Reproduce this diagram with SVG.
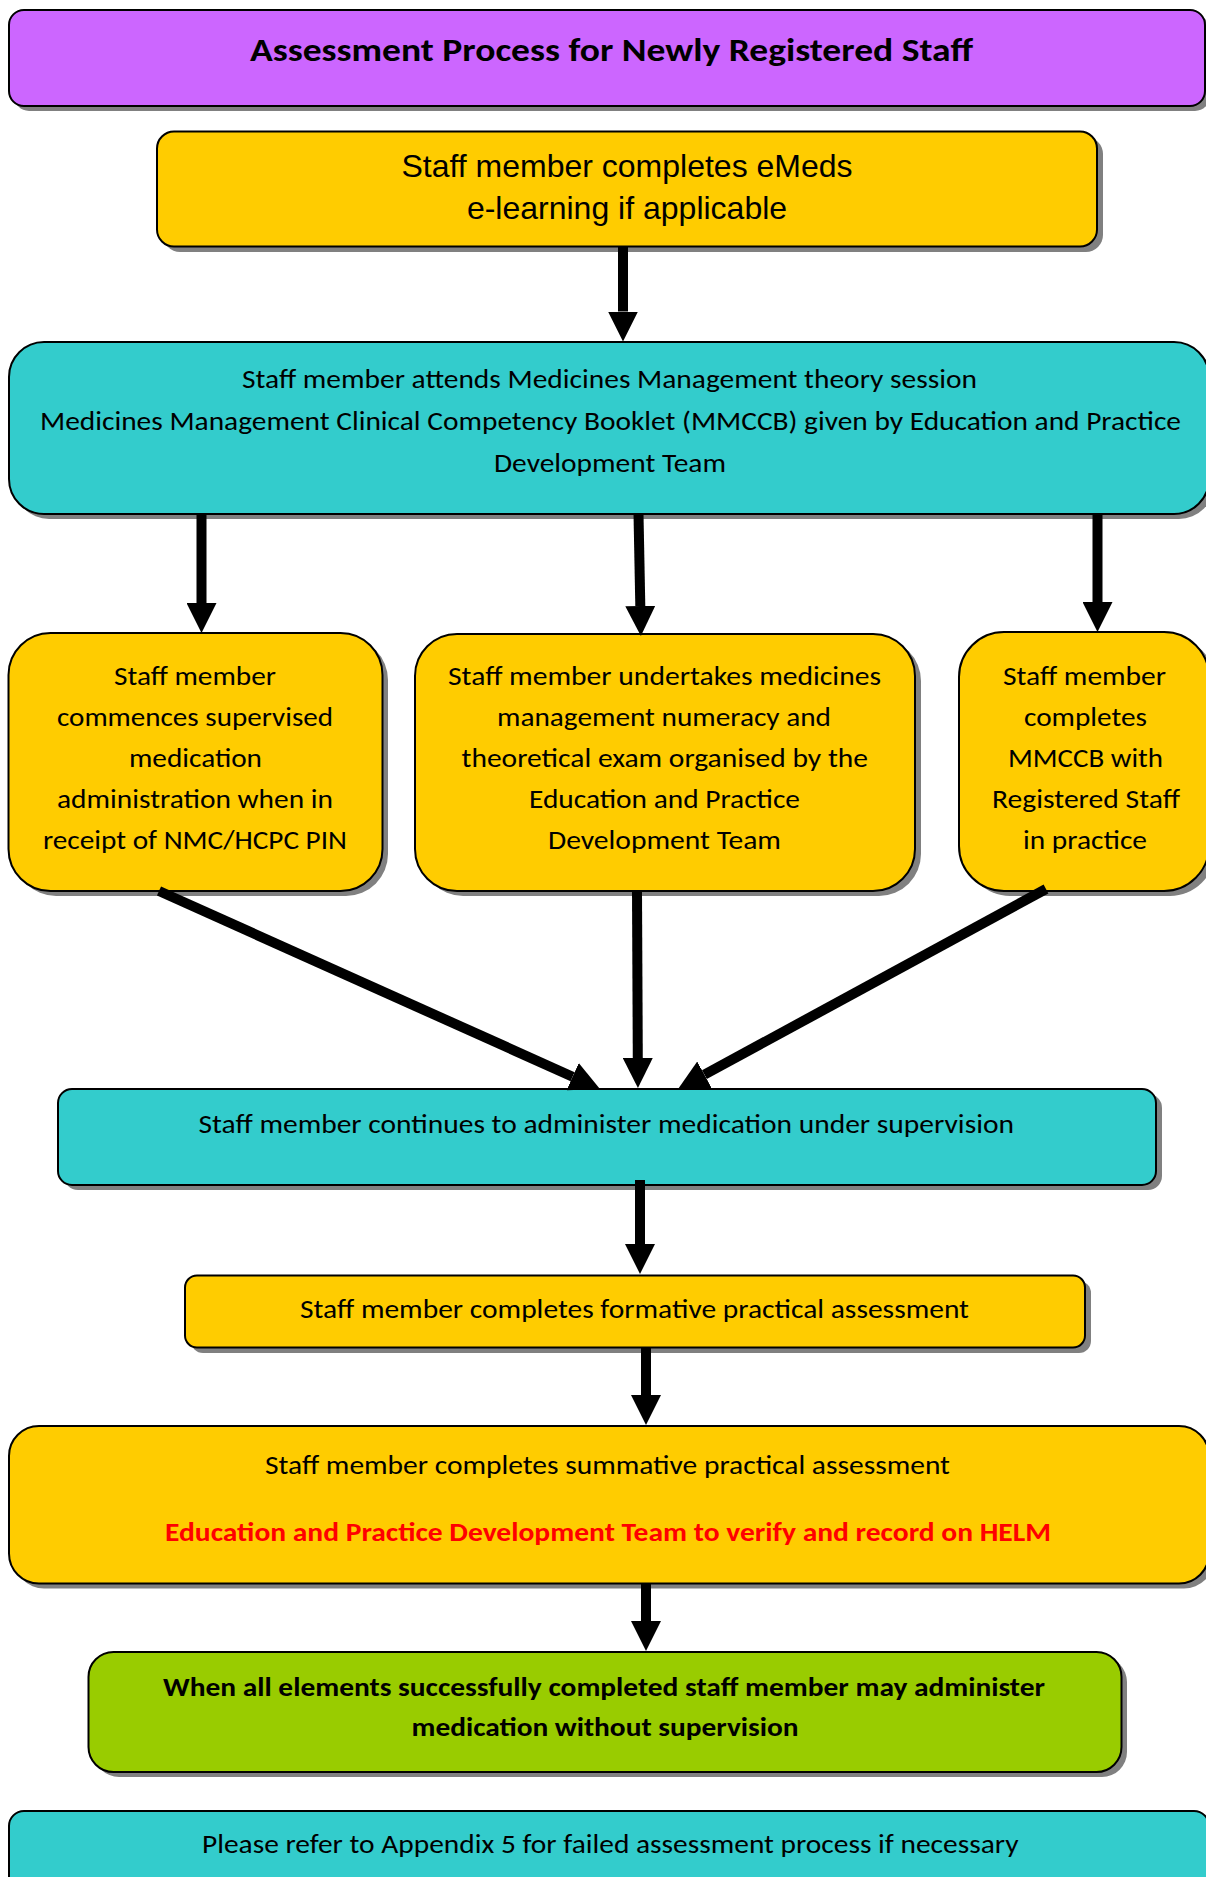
<svg xmlns="http://www.w3.org/2000/svg" width="1206" height="1877" viewBox="0 0 1206 1877">
<style>
.box{stroke:#000;stroke-width:2}
.sh{fill:#808080}
.purple{fill:#CC66FF}
.yellow{fill:#FFCC00}
.teal{fill:#33CCCC}
.green{fill:#99CC00}
.c{font-family:Carlito,Calibri,Lato,sans-serif;font-size:27px;fill:#000}
.t{font-size:32px}
.b{font-weight:bold}
.red{fill:#FF0000}
.a{font-family:"Liberation Sans",Arial,sans-serif;font-size:32px;fill:#000;text-anchor:middle}
.ln{stroke:#000;stroke-width:10;fill:none}
</style>
<defs>
<marker id="ah" viewBox="0 0 10 10" refX="0" refY="5" markerWidth="3" markerHeight="3" markerUnits="strokeWidth" orient="auto">
<path d="M0,0 L10,5 L0,10 z" fill="#000"/>
</marker>
</defs>
<rect width="1206" height="1877" fill="#fff"/>

<g id="title">
<rect class="sh" x="14" y="15" width="1196" height="96" rx="15"/>
<rect class="box purple" x="9" y="10" width="1196" height="96" rx="15"/>
<text class="c b t" x="250" y="61" textLength="723" lengthAdjust="spacingAndGlyphs">Assessment Process for Newly Registered Staff</text>
</g>

<g id="emeds">
<rect class="sh" x="163" y="137" width="940" height="115" rx="17"/>
<rect class="box yellow" x="157" y="131.5" width="940" height="115" rx="17"/>
<text class="a" x="627" y="177">Staff member completes eMeds</text>
<text class="a" x="627" y="219">e-learning if applicable</text>
</g>

<g id="theory">
<rect class="sh" x="14" y="347" width="1200" height="172" rx="35"/>
<rect class="box teal" x="9" y="342" width="1200" height="172" rx="35"/>
<text class="c" x="242" y="388" textLength="735" lengthAdjust="spacingAndGlyphs">Staff member attends Medicines Management theory session</text>
<text class="c" x="40" y="430" textLength="1141" lengthAdjust="spacingAndGlyphs">Medicines Management Clinical Competency Booklet (MMCCB) given by Education and Practice</text>
<text class="c" x="494" y="472" textLength="232" lengthAdjust="spacingAndGlyphs">Development Team</text>
</g>

<g id="supervised">
<rect class="sh" x="14" y="638" width="374" height="258" rx="42"/>
<rect class="box yellow" x="8.5" y="633" width="374" height="258" rx="42"/>
<text class="c" x="114" y="684.5" textLength="162" lengthAdjust="spacingAndGlyphs">Staff member</text>
<text class="c" x="57" y="725.5" textLength="276" lengthAdjust="spacingAndGlyphs">commences supervised</text>
<text class="c" x="129" y="766.5" textLength="133" lengthAdjust="spacingAndGlyphs">medication</text>
<text class="c" x="57" y="807.5" textLength="276" lengthAdjust="spacingAndGlyphs">administration when in</text>
<text class="c" x="43" y="848.5" textLength="304" lengthAdjust="spacingAndGlyphs">receipt of NMC/HCPC PIN</text>
</g>

<g id="exam">
<rect class="sh" x="421" y="639" width="500" height="257" rx="42"/>
<rect class="box yellow" x="415" y="634" width="500" height="257" rx="42"/>
<text class="c" x="448" y="684.5" textLength="433" lengthAdjust="spacingAndGlyphs">Staff member undertakes medicines</text>
<text class="c" x="497" y="725.5" textLength="334" lengthAdjust="spacingAndGlyphs">management numeracy and</text>
<text class="c" x="461.5" y="766.5" textLength="406.5" lengthAdjust="spacingAndGlyphs">theoretical exam organised by the</text>
<text class="c" x="529" y="807.5" textLength="271" lengthAdjust="spacingAndGlyphs">Education and Practice</text>
<text class="c" x="548" y="848.5" textLength="233" lengthAdjust="spacingAndGlyphs">Development Team</text>
</g>

<g id="mmccb">
<rect class="sh" x="965" y="637" width="250" height="259" rx="45"/>
<rect class="box yellow" x="959" y="632" width="250" height="259" rx="45"/>
<text class="c" x="1003" y="684.5" textLength="163" lengthAdjust="spacingAndGlyphs">Staff member</text>
<text class="c" x="1024" y="725.5" textLength="123" lengthAdjust="spacingAndGlyphs">completes</text>
<text class="c" x="1008" y="766.5" textLength="155" lengthAdjust="spacingAndGlyphs">MMCCB with</text>
<text class="c" x="992" y="807.5" textLength="188" lengthAdjust="spacingAndGlyphs">Registered Staff</text>
<text class="c" x="1023" y="848.5" textLength="124" lengthAdjust="spacingAndGlyphs">in practice</text>
</g>

<g id="continues">
<rect class="sh" x="64" y="1094" width="1098" height="96" rx="14"/>
<rect class="box teal" x="58" y="1089" width="1098" height="96" rx="14"/>
<text class="c" x="198.5" y="1132.5" textLength="815.5" lengthAdjust="spacingAndGlyphs">Staff member continues to administer medication under supervision</text>
</g>

<g id="formative">
<rect class="sh" x="191" y="1281" width="900" height="72" rx="12"/>
<rect class="box yellow" x="185" y="1275.5" width="900" height="72" rx="12"/>
<text class="c" x="300" y="1318" textLength="669" lengthAdjust="spacingAndGlyphs">Staff member completes formative practical assessment</text>
</g>

<g id="summative">
<rect class="sh" x="14" y="1431" width="1200" height="157.5" rx="30"/>
<rect class="box yellow" x="9" y="1426" width="1200" height="157.5" rx="30"/>
<text class="c" x="265" y="1473.5" textLength="685" lengthAdjust="spacingAndGlyphs">Staff member completes summative practical assessment</text>
<text class="c b red" x="165" y="1541" textLength="886" lengthAdjust="spacingAndGlyphs">Education and Practice Development Team to verify and record on HELM</text>
</g>

<g id="complete">
<rect class="sh" x="94" y="1657" width="1033" height="120" rx="25"/>
<rect class="box green" x="88.5" y="1652" width="1033" height="120" rx="25"/>
<text class="c b" x="163" y="1696" textLength="882" lengthAdjust="spacingAndGlyphs">When all elements successfully completed staff member may administer</text>
<text class="c b" x="411.5" y="1736" textLength="387" lengthAdjust="spacingAndGlyphs">medication without supervision</text>
</g>

<g id="appendix">
<rect class="sh" x="14" y="1816" width="1200" height="100" rx="15"/>
<rect class="box teal" x="9" y="1811" width="1200" height="100" rx="15"/>
<text class="c" x="202" y="1852.5" textLength="816.5" lengthAdjust="spacingAndGlyphs">Please refer to Appendix 5 for failed assessment process if necessary</text>
</g>

<g id="connectors">
<line class="ln" x1="623" y1="246" x2="623" y2="311.5" marker-end="url(#ah)"/>
<line class="ln" x1="201.5" y1="514" x2="201.5" y2="603" marker-end="url(#ah)"/>
<line class="ln" x1="638.5" y1="514" x2="640.3" y2="606" marker-end="url(#ah)"/>
<line class="ln" x1="1097.5" y1="514" x2="1097.5" y2="602" marker-end="url(#ah)"/>
<line class="ln" x1="159" y1="891" x2="572.6" y2="1076.7" marker-end="url(#ah)"/>
<line class="ln" x1="637" y1="891" x2="637.8" y2="1058" marker-end="url(#ah)"/>
<line class="ln" x1="1046" y1="889" x2="704.4" y2="1074.7" marker-end="url(#ah)"/>
<line class="ln" x1="640" y1="1180" x2="640" y2="1244" marker-end="url(#ah)"/>
<line class="ln" x1="646" y1="1348" x2="646" y2="1395" marker-end="url(#ah)"/>
<line class="ln" x1="646" y1="1584" x2="646" y2="1621" marker-end="url(#ah)"/>
</g>
</svg>
